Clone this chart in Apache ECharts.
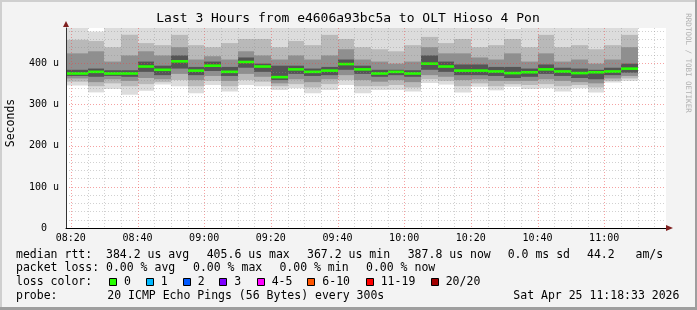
<!DOCTYPE html>
<html><head><meta charset="utf-8">
<script src="https://cdn.jsdelivr.net/npm/echarts@6/dist/echarts.min.js"></script>
<style>html,body{margin:0;padding:0;background:#f3f3f3}#c{width:697px;height:310px}</style>
</head><body><div id="c"></div>
<script>
// ---- data ----
const axisStart = '08:18:33', axisEnd = '11:18:33';
const stepMinutes = 5;
const slotStarts = ['08:15','08:20','08:25','08:30','08:35','08:40','08:45','08:50','08:55',
  '09:00','09:05','09:10','09:15','09:20','09:25','09:30','09:35','09:40','09:45','09:50','09:55',
  '10:00','10:05','10:10','10:15','10:20','10:25','10:30','10:35','10:40','10:45','10:50','10:55',
  '11:00','11:05'];
const median   = [376,376,380,376,376,393,385,405.6,383,395,380,404,393,367.2,386,380,383,399,386,376,380,376,400,393,383,383,381,377,379,386,381,377,379,381,387.8];
const smokeMin = [347,347,330,338,324,334,349,345,328,348,332,348,345,336,340,328,336,348,328,336,336,332,353,349,330,344,335,344,338,340,332,340,330,354,358];
const smokeLo1 = [356,356,345,352,345,350,355,360,345,358,345,360,356,345,350,342,350,360,345,345,348,342,362,358,345,352,345,350,348,350,345,348,342,358,364];
const smokeLo2 = [364,364,355,362,358,365,362,375,360,370,358,375,368,352,362,355,362,372,360,356,360,355,372,368,360,362,358,358,358,362,358,355,352,364,370];
const smokeLo3 = [370,370,368,370,368,380,372,388,372,382,370,390,380,360,375,370,372,385,375,368,372,368,385,380,372,372,370,365,368,375,370,365,362,372,378];
const smokeHi3 = [385,385,388,384,384,405,395,420,392,405,392,415,400,395,395,388,392,410,395,385,385,384,420,405,398,398,392,392,388,398,390,388,385,390,400];
const smokeHi2 = [425,425,430,405,420,430,420,440,410,418,410,430,420,410,420,410,420,435,410,405,400,405,440,425,425,415,410,425,405,425,405,410,400,410,440];
const smokeHi1 = [458,458,455,440,470,450,445,470,445,440,450,460,460,440,455,445,470,460,440,435,430,445,465,450,460,440,445,460,440,470,440,445,435,445,470];
const smokeMax = [495,495,478,495,495,495,495,500,495,490,495,495,495,495,495,495,495,495,495,495,495,490,500,495,495,495,495,485,495,500,490,490,490,490,500];
const gridTicks = ['08:20','08:25','08:30','08:35','08:40','08:45','08:50','08:55','09:00','09:05','09:10','09:15',
  '09:20','09:25','09:30','09:35','09:40','09:45','09:50','09:55','10:00','10:05','10:10','10:15',
  '10:20','10:25','10:30','10:35','10:40','10:45','10:50','10:55','11:00','11:05','11:10','11:15'];
const labelTicks = ['08:20','08:40','09:00','09:20','09:40','10:00','10:20','10:40','11:00'];
const yMax = 486.72;
const lossLabels = ['0','1','2','3','4-5','6-10','11-19','20/20'];
const lossColors = ['#26ff00','#00b8ff','#0059ff','#7e00ff','#ff00ff','#ff5500','#ff0000','#a10000'];
const titleText = 'Last 3 Hours from e4606a93bc5a to OLT Hioso 4 Pon';
const statsRow1 = ['median rtt:  384.2 us avg','405.6 us max','367.2 us min','387.8 us now','0.0 ms sd','44.2   am/s'];
const statsRow2 = ['packet loss: 0.00 % avg','0.00 % max','0.00 % min','0.00 % now'];
const probeText = '20 ICMP Echo Pings (56 Bytes) every 300s';
const stampText = 'Sat Apr 25 11:18:33 2026';

// ---- helpers ----
function toMin(s){const p=s.split(':').map(Number);return p[0]*60+p[1]+(p[2]||0)/60;}
function fmtMin(v){const h=Math.floor(v/60+1e-9), m=Math.round(v-h*60);return String(h).padStart(2,'0')+':'+String(m).padStart(2,'0');}
const MONO='"DejaVu Sans Mono"';
const MAJ='rgba(235,70,70,0.5)', MIN='rgba(140,140,140,0.4)';
const majorSet = new Set(labelTicks.map(toMin));

const smokeData = slotStarts.map((s,i)=>[toMin(s), toMin(s)+stepMinutes, smokeMin[i], smokeLo1[i], smokeLo2[i], smokeLo3[i], smokeHi3[i], smokeHi2[i], smokeHi1[i], smokeMax[i]]);
const medData = slotStarts.map((s,i)=>[toMin(s), toMin(s)+stepMinutes, median[i]]);
const vGridData = gridTicks.map(t=>[toMin(t), 0, yMax]);

function clip(r, cs){return echarts.graphic.clipRectByRect(r,{x:cs.x,y:cs.y,width:cs.width,height:cs.height});}
function renderSmoke(params, api){
  const cs=params.coordSys;
  const bands=[[2,9,'#dcdcdc'],[3,8,'#b9b9b9'],[4,7,'#8f8f8f'],[5,6,'#555555']];
  const children=[];
  for(const [lo,hi,col] of bands){
    const p0=api.coord([api.value(0), api.value(hi)]);
    const p1=api.coord([api.value(1), api.value(lo)]);
    const x0=Math.round(p0[0]), x1=Math.round(p1[0]);
    const r=clip({x:x0,y:p0[1],width:x1-x0,height:p1[1]-p0[1]},cs);
    if(r) children.push({type:'rect',shape:r,style:{fill:col}});
  }
  return {type:'group',children};
}
function renderMedian(params, api){
  const cs=params.coordSys;
  const p0=api.coord([api.value(0), api.value(2)]);
  const p1=api.coord([api.value(1), api.value(2)]);
  const x0=Math.round(p0[0]), x1=Math.round(p1[0]);
  const r=clip({x:x0,y:p0[1]-1.3,width:x1-x0,height:2.6},cs);
  return r?{type:'rect',shape:r,style:{fill:lossColors[0]}}:null;
}
function renderVGrid(params, api){
  const t=api.value(0);
  const pTop=api.coord([t, api.value(2)]);
  const pBot=api.coord([t, api.value(1)]);
  const x=Math.round(pTop[0])+0.5;
  return {type:'line',shape:{x1:x,y1:pTop[1],x2:x,y2:pBot[1]},
    style:{stroke:majorSet.has(t)?MAJ:MIN,lineWidth:1,lineDash:[1,2]}};
}

const graphics=[];
function T(x,y,text,opts){graphics.push({type:'text',x,y,silent:true,z:10,style:Object.assign({text,font:'11.5px '+MONO,fill:'#000',align:'left',verticalAlign:'middle'},opts||{})});}
graphics.push({type:'rect',shape:{x:0,y:0,width:697,height:2},style:{fill:'#cfcfcf'},silent:true});
graphics.push({type:'rect',shape:{x:0,y:0,width:2,height:310},style:{fill:'#cfcfcf'},silent:true});
graphics.push({type:'rect',shape:{x:695,y:0,width:2,height:310},style:{fill:'#9e9e9e'},silent:true});
graphics.push({type:'rect',shape:{x:0,y:307,width:697,height:3},style:{fill:'#9e9e9e'},silent:true});
graphics.push({type:'polygon',shape:{points:[[63,27],[69,27],[66,21]]},style:{fill:'#7f1f1f'},z:10,silent:true});
graphics.push({type:'polygon',shape:{points:[[666,225],[666,231],[673,228]]},style:{fill:'#7f1f1f'},z:10,silent:true});
T(348,19,titleText,{font:'13px '+MONO,align:'center'});
graphics.push({type:'text',x:11,y:123,rotation:Math.PI/2,silent:true,style:{text:'Seconds',font:'11.5px '+MONO,fill:'#000',align:'center',verticalAlign:'middle'}});
graphics.push({type:'text',x:688,y:63,rotation:-Math.PI/2,silent:true,style:{text:'RRDTOOL / TOBI OETIKER',font:'7.5px '+MONO,fill:'#b0b0b0',align:'center',verticalAlign:'middle'}});
const row1X=[16,206.7,307,407.7,507.7,587];
statsRow1.forEach((s,i)=>T(row1X[i],254.7,s));
const row2X=[16,193,279.4,366];
statsRow2.forEach((s,i)=>T(row2X[i],268.3,s));
T(16,282.3,'loss color:');
const boxX=[109,145.7,182.7,219.3,256.7,307.3,365.7,430.7];
lossLabels.forEach((l,i)=>{
  graphics.push({type:'rect',shape:{x:Math.round(boxX[i])+0.5,y:278.5,width:7,height:7},style:{fill:lossColors[i],stroke:'#000',lineWidth:1},z:10,silent:true});
  T(boxX[i]+15,282.3,l);
});
T(16,296,'probe:');
T(107.3,296,probeText);
T(513.3,296,stampText);

const chart=echarts.init(document.getElementById('c'),null,{renderer:'canvas'});
chart.setOption({
  animation:false,
  backgroundColor:'#f3f3f3',
  grid:{left:66,right:31,top:28,bottom:82,show:true,backgroundColor:'#ffffff',borderWidth:0,containLabel:false,outerBoundsMode:'none'},
  xAxis:{type:'value',min:toMin(axisStart),max:toMin(axisEnd),z:5,
    axisLine:{show:true,onZero:false,lineStyle:{color:'#000',width:1}},
    axisTick:{show:false},
    axisLabel:{customValues:labelTicks.map(toMin),formatter:v=>fmtMin(v),margin:5,fontFamily:'DejaVu Sans Mono',fontSize:10,color:'#000'},
    splitLine:{show:false}},
  yAxis:{type:'value',min:0,max:yMax,interval:20,z:5,
    axisLine:{show:true,lineStyle:{color:'#333',width:1}},
    axisTick:{show:false},
    axisLabel:{margin:7,fontFamily:'DejaVu Sans Mono',fontSize:10,color:'#000',showMaxLabel:false,
      formatter:v=>(Math.round(v)%100===0)?(v===0?'0  ':Math.round(v)+' u'):''},
    splitLine:{show:true,showMinLine:true,showMaxLine:false,lineStyle:{color:[MAJ,MIN,MIN,MIN,MIN],type:[1,2],width:1}}},
  series:[
    {type:'custom',name:'smoke',renderItem:renderSmoke,data:smokeData,encode:{x:[0,1],y:[2,9]},z:1,clip:true,silent:true},
    {type:'custom',name:'median',renderItem:renderMedian,data:medData,encode:{x:[0,1],y:2},z:2,clip:true,silent:true},
    {type:'custom',name:'vgrid',renderItem:renderVGrid,data:vGridData,encode:{x:0,y:[1,2]},z:4,clip:true,silent:true}
  ],
  graphic:graphics
});
</script></body></html>
